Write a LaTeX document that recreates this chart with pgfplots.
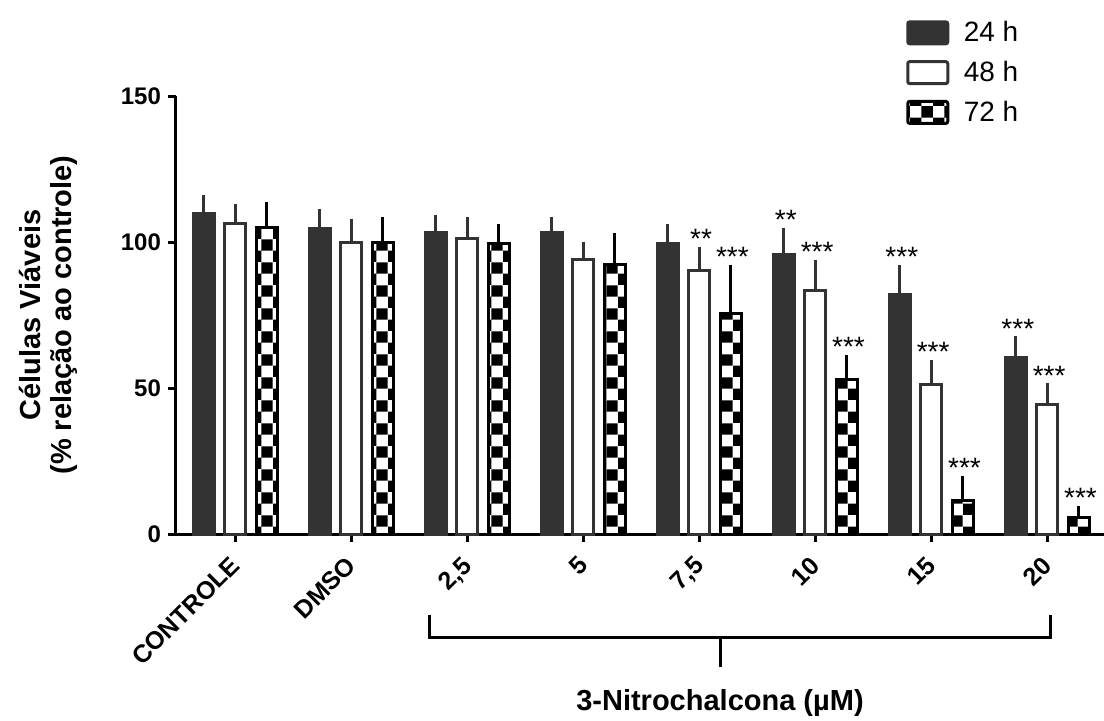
\documentclass[border=0pt]{standalone}
\usepackage{fontspec}
\setmainfont{Liberation Sans}
\usepackage{pgfplots}
\pgfplotsset{compat=1.18}
\usetikzlibrary{patterns}
\definecolor{dk}{RGB}{51,51,51}
\tikzset{sigmark/.style={font=\fontsize{14}{14}\selectfont, anchor=base, yshift=2pt, xshift=1pt}}

\begin{document}
\begin{tikzpicture}
\useasboundingbox (-88pt,-93pt) rectangle (464pt,267pt);
\begin{axis}[
  scale only axis, width=464pt, height=219pt,
  xmin=-0.509, xmax=7.49, ymin=0, ymax=150,
  ybar=5.25pt, bar width=10.5pt,
  axis x line*=bottom, axis y line*=left,
  axis line style={line width=1.5pt},
  every tick/.style={line width=1.5pt, black},
  tick align=outside, major tick length=4pt,
  xtick={0,...,7},
  xticklabels={CONTROLE,DMSO,{2,5},5,{7,5},10,15,20},
  ytick={0,50,100,150},
  /pgf/number format/assume math mode=true,
  yticklabel style={font=\fontsize{12}{13}\selectfont\bfseries},
  xticklabel style={font=\fontsize{12.5}{13}\selectfont\bfseries,
    xshift=-3pt, yshift=-1.5pt, rotate=45, anchor=north east},
  ylabel={Células Viáveis\\(\% relação ao controle)},
  ylabel style={align=center, font=\fontsize{14.5}{15.5}\selectfont\bfseries,
    at={(axis description cs:-0.138,0.5)}, anchor=center},
  clip=false,
  legend style={at={(rel axis cs:0.78,1.19)}, anchor=north west,
    draw=none, fill=none, font=\fontsize{14}{15}\selectfont,
    row sep=4.25pt},
  legend cell align=left,
  legend image code/.code={\draw[#1, line width=1.5pt, rounded corners=1pt]
      (0pt,-5.5pt) rectangle (20pt,5.5pt);
      \path[draw=none, fill=none] (0pt,0pt) rectangle (26pt,0.1pt);},
  error bars/y dir=plus, error bars/y explicit,
]
% 24 h
\addplot[fill=dk, draw=dk, line width=1.5pt,
  error bars/error bar style={line width=1.5pt, dk},
  error bars/error mark options={line width=1.5pt, mark size=3pt, dk}]
  coordinates {
  (0,109.7) +- (0,4.3) (1,104.6) +- (0,4.6) (2,103.3) +- (0,4.0)
  (3,103.1) +- (0,3.5) (4,99.4) +- (0,4.8) (5,95.8) +- (0,7.1)
  (6,82.1) +- (0,8.0) (7,60.3) +- (0,5.3)};
% 48 h
\addplot[fill=white, draw=dk, line width=1.5pt,
  error bars/error bar style={line width=1.5pt, dk},
  error bars/error mark options={line width=1.5pt, mark size=3pt, dk}]
  coordinates {
  (0,106.3) +- (0,4.7) (1,100.0) +- (0,5.7) (2,101.2) +- (0,5.4)
  (3,94.0) +- (0,4.1) (4,90.3) +- (0,6.1) (5,83.5) +- (0,8.3)
  (6,51.1) +- (0,6.6) (7,44.5) +- (0,5.1)};
% 72 h
\addplot[draw=black, line width=1.5pt, pattern=checkerboard, pattern color=black,
  error bars/error bar style={line width=1.5pt, black},
  error bars/error mark options={line width=1.5pt, mark size=3pt, black}]
  coordinates {
  (0,105.1) +- (0,6.7) (1,100.0) +- (0,6.6) (2,99.6) +- (0,4.6)
  (3,92.3) +- (0,8.8) (4,75.5) +- (0,14.6) (5,52.9) +- (0,6.4)
  (6,11.4) +- (0,6.5) (7,5.7) +- (0,1.9)};
\legend{24 h, 48 h, 72 h}

% significance marks
\node[sigmark] at (axis cs:4,96.4) {**};
\node[sigmark] at (axis cs:4.27,90.1) {***};
\node[sigmark] at (axis cs:4.73,102.9) {**};
\node[sigmark] at (axis cs:5,91.8) {***};
\node[sigmark] at (axis cs:5.27,59.3) {***};
\node[sigmark] at (axis cs:5.73,90.1) {***};
\node[sigmark] at (axis cs:6,57.7) {***};
\node[sigmark] at (axis cs:6.27,17.9) {***};
\node[sigmark] at (axis cs:6.73,65.6) {***};
\node[sigmark] at (axis cs:7,49.6) {***};
\node[sigmark] at (axis cs:7.27,7.6) {***};

% bracket under the concentrations
\draw[line width=1.5pt] (axis cs:1.68,-27.7) -- (axis cs:1.68,-35.6)
  -- (axis cs:7.03,-35.6) -- (axis cs:7.03,-27.7);
\draw[line width=1.5pt] (axis cs:4.18,-35.6) -- (axis cs:4.18,-45.5);
\node[font=\fontsize{14.5}{15}\selectfont\bfseries] at (axis cs:4.18,-57.8)
  {3-Nitrochalcona (µM)};
\end{axis}
\end{tikzpicture}
\end{document}
